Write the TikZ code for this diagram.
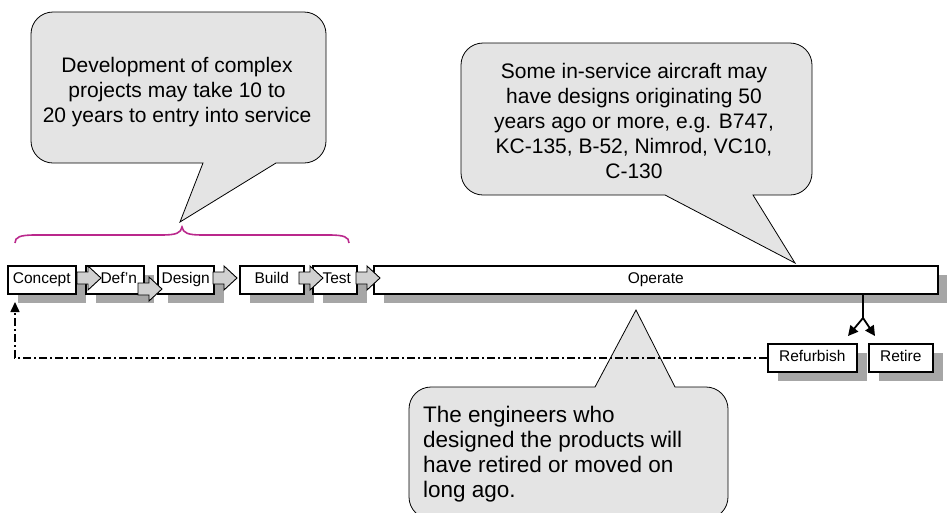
\documentclass[tikz,border=0pt]{standalone}
\usepackage{fontspec}
\setmainfont{Liberation Sans}
\usetikzlibrary{arrows.meta,shadows}

\definecolor{calloutfill}{RGB}{228,228,228}
\definecolor{arrowfill}{RGB}{208,208,208}
\definecolor{shadowgray}{RGB}{166,166,166}
\definecolor{bracecol}{RGB}{186,40,140}

\begin{document}
\begin{tikzpicture}[x=1pt,y=-1pt,
  stage/.style={draw=black, line width=1.5pt, fill=white, inner sep=0pt,
    minimum height=28pt, anchor=north west,
    text height=11pt, text depth=3.3pt,
    font=\fontsize{15.5}{18}\selectfont,
    drop shadow={shadow xshift=10pt, shadow yshift=-9pt, fill=shadowgray, opacity=1}},
  callout/.style={draw=black, line width=0.8pt, fill=calloutfill},
  callouttext/.style={font=\fontsize{21}{25}\selectfont, inner sep=0pt},
  blockarr/.pic={\draw[line width=0.9pt, fill=arrowfill]
    (0,-6) -- (11,-6) -- (11,-12) -- (24,0) -- (11,12) -- (11,6) -- (0,6) -- cycle;},
  loopline/.style={line width=1.6pt, dash pattern=on 8pt off 3pt on 2pt off 3pt},
  splitline/.style={line width=1.8pt},
  bracepath/.style={draw=bracecol, line width=1.6pt}
]
\useasboundingbox (0,0) rectangle (947,512);
\clip (0,0) rectangle (947,512);

% speech bubbles
\draw[callout] (53,12) -- (304,12) arc[start angle=270,end angle=360,radius=22]
  -- (326,141) arc[start angle=0,end angle=90,radius=22]
  -- (276,163) -- (180,222) -- (203,163)
  -- (53,163) arc[start angle=90,end angle=180,radius=22]
  -- (31,34) arc[start angle=180,end angle=270,radius=22] -- cycle;
\node[callouttext, align=center] (devnote) at (177,92)
  {Development of complex\\projects may take 10 to\\20 years to entry into service};

\draw[callout] (483,43) -- (790,43) arc[start angle=270,end angle=360,radius=22]
  -- (812,173) arc[start angle=0,end angle=90,radius=22]
  -- (753,195) -- (795,263) -- (665,195)
  -- (483,195) arc[start angle=90,end angle=180,radius=22]
  -- (461,65) arc[start angle=180,end angle=270,radius=22] -- cycle;
\node[callouttext, align=center] (agenote) at (634,121)
  {Some in-service aircraft may\\have designs originating 50\\years ago or more, e.g. B747,\\KC-135, B-52, Nimrod, VC10,\\C-130};

\draw[callout] (431,387) -- (595,387) -- (636,310) -- (675,387)
  -- (706,387) arc[start angle=270,end angle=360,radius=22]
  -- (728,497) arc[start angle=0,end angle=90,radius=22]
  -- (431,519) arc[start angle=90,end angle=180,radius=22]
  -- (409,409) arc[start angle=180,end angle=270,radius=22] -- cycle;
\node[callouttext, font=\fontsize{22.5}{25}\selectfont, align=left, anchor=north west]
  (engnote) at (423,406)
  {The engineers who\\designed the products will\\have retired or moved on\\long ago.};

% brace over the development stages
\draw[bracepath] (15,243) .. controls (15,237) and (20,235) .. (35,235)
  -- (162,235) .. controls (176,235) and (181,233) .. (182,227)
  .. controls (183,233) and (188,235) .. (202,235)
  -- (329,235) .. controls (344,235) and (349,237) .. (349,243);

% life-cycle stages
\node[stage, minimum width=68pt] (concept) at (7,265) {Concept};
\node[stage, minimum width=58pt] (defn) at (85,265) {\hspace*{8pt}Def’n};
\node[stage, minimum width=56pt] (design) at (157,265) {Design};
\node[stage, minimum width=64pt] (build) at (239,265) {Build};
\node[stage, minimum width=44pt] (test) at (312,265) {\hspace*{4pt}Test};
\node[stage, minimum width=564pt] (operate) at (373,265) {Operate};
\node[stage, minimum width=89pt] (refurbish) at (767,343) {Refurbish};
\node[stage, minimum width=64pt] (retire) at (868,343) {Retire};

% block arrows between stages
\pic at (77,278) {blockarr};
\pic at (138,289) {blockarr};
\pic at (213,278) {blockarr};
\pic at (299,278) {blockarr};
\pic at (356,278) {blockarr};

% end of service: refurbish or retire
\coordinate (fork) at (863,318);
\coordinate (refurbtip) at (848,336);
\coordinate (retiretip) at (875,336);
\draw[splitline] (operate.south -| fork) -- (fork);
\draw[splitline, -{Triangle[length=10pt,width=10pt]}] (fork) -- (refurbtip);
\draw[splitline, -{Triangle[length=10pt,width=10pt]}] (fork) -- (retiretip);

% refurbishment loops back to concept
\coordinate (looptip) at (15,302);
\draw[loopline, -{Triangle[length=10pt,width=9pt]}] (refurbish.west) -| (looptip);
\end{tikzpicture}
\end{document}
